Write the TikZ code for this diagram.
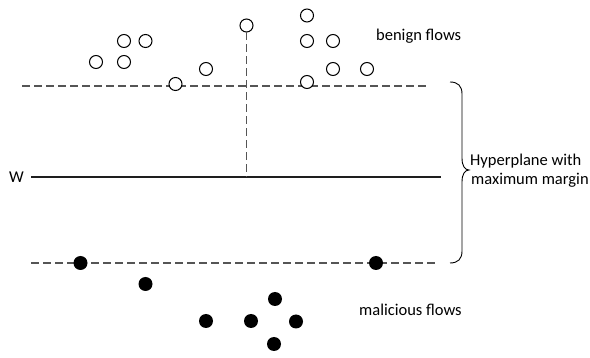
\documentclass[tikz,border=0pt]{standalone}
\usepackage{fontspec}
\setmainfont{Carlito}
\begin{document}
\begin{tikzpicture}[x=1pt,y=-1pt,
  opendot/.style={circle,draw=black,fill=white,line width=1pt,minimum size=13pt,inner sep=0pt},
  fulldot/.style={circle,fill=black,minimum size=14pt,inner sep=0pt},
  margin/.style={dashed,dash pattern=on 7.5pt off 4.5pt,draw={rgb,255:red,85;green,85;blue,85},line width=1.5pt},
  plane/.style={draw={rgb,255:red,30;green,30;blue,30},line width=1.3pt},
  lbl/.style={font=\fontsize{16.5pt}{19pt}\selectfont,inner sep=0pt,anchor=west}]
\useasboundingbox (0,0) rectangle (590,358);
% margin lines and hyperplane
\coordinate (tl) at (22,86); \coordinate (tr) at (429,86);
\coordinate (wl) at (31,177); \coordinate (wr) at (441,177);
\coordinate (bl) at (31,263); \coordinate (br) at (437,263);
\coordinate (wfoot) at (246.5,177);
\draw[margin] (tl) -- (tr);
\draw[plane] (wl) -- (wr);
\draw[margin] (bl) -- (br);
% benign flows
\node[opendot] (o1) at (124,41) {};
\node[opendot] (o2) at (145.5,41) {};
\node[opendot] (o3) at (96,62) {};
\node[opendot] (o4) at (124,62) {};
\node[opendot] (o5) at (175.5,84) {};
\node[opendot] (o6) at (206,69) {};
\node[opendot] (o7) at (246.5,25.5) {};
\node[opendot] (o8) at (307,15.5) {};
\node[opendot] (o9) at (307,41) {};
\node[opendot] (o10) at (333,41) {};
\node[opendot] (o11) at (333,69) {};
\node[opendot] (o12) at (367,69) {};
\node[opendot] (o13) at (307,82) {};
\draw[margin] (o7.south) -- (wfoot);
% malicious flows
\node[fulldot] (f1) at (80.5,263) {};
\node[fulldot] (f2) at (145.5,284) {};
\node[fulldot] (f3) at (275,299) {};
\node[fulldot] (f4) at (206,321) {};
\node[fulldot] (f5) at (251,321) {};
\node[fulldot] (f6) at (296,321.5) {};
\node[fulldot] (f7) at (274,344) {};
\node[fulldot] (f8) at (376,263) {};
% brace
\coordinate (bt) at (450,82); \coordinate (bb) at (450,263); \coordinate (btip) at (469,170);
\draw[line width=0.9pt] (bt) .. controls (458,82) and (462,86) .. (462,94)
  -- (462,158) .. controls (462,166) and (465,170) .. (btip)
  .. controls (465,170) and (462,174) .. (462,182)
  -- (462,251) .. controls (462,259) and (458,263) .. (bb);
% labels
\node[lbl] (benign) at (376,36) {benign flows};
\node[lbl] (malicious) at (359,309.5) {malicious flows};
\node[lbl] (hyp1) at (470,161) {Hyperplane with};
\node[lbl] (hyp2) at (471,180) {maximum margin};
\node[lbl] (w) at (9,177) {W};
\end{tikzpicture}
\end{document}
